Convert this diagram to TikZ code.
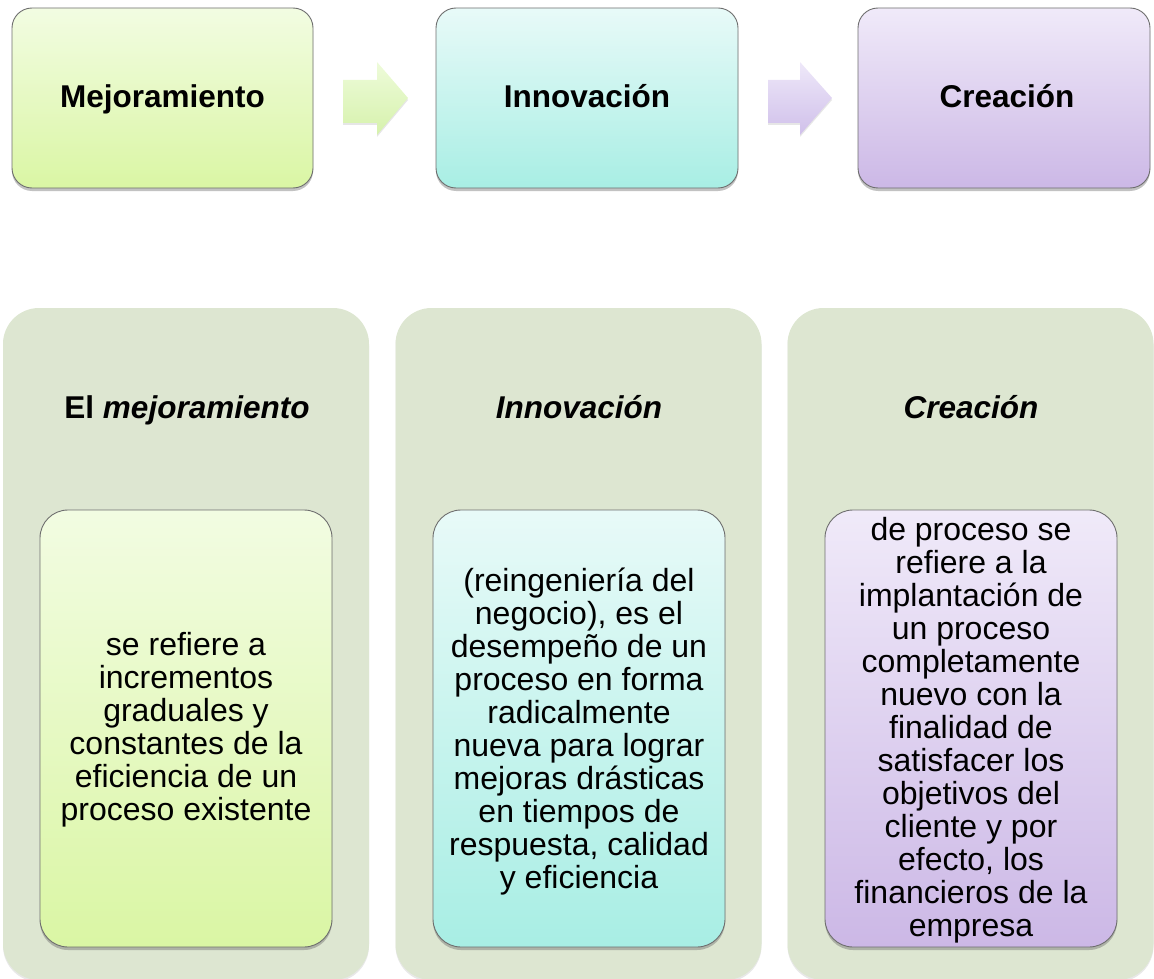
\documentclass[tikz,border=0pt]{standalone}
\usepackage{fontspec}
\setmainfont{Liberation Sans}
\usetikzlibrary{shadows}
\definecolor{bigfill}{RGB}{221,230,209}
\definecolor{edgegray}{RGB}{110,110,110}
\definecolor{gTop}{RGB}{242,252,226}
\definecolor{gBot}{RGB}{218,246,164}
\definecolor{cTop}{RGB}{232,250,248}
\definecolor{cBot}{RGB}{168,238,228}
\definecolor{pTop}{RGB}{240,234,249}
\definecolor{pBot}{RGB}{204,184,230}
\definecolor{agTop}{RGB}{238,251,218}
\definecolor{agBot}{RGB}{214,242,172}
\definecolor{apTop}{RGB}{238,232,249}
\definecolor{apBot}{RGB}{208,192,234}
\tikzset{
  softshadow/.style={drop shadow={shadow xshift=0pt,shadow yshift=-3pt,opacity=0.4,fill=black!60}},
  topbox/.style={draw=edgegray,line width=0.9pt,rounded corners=20pt,minimum height=180pt,inner sep=0pt,softshadow},
  bigbox/.style={fill=bigfill,rounded corners=36pt,minimum width=366pt,minimum height=672pt,inner sep=0pt,
     drop shadow={shadow xshift=0pt,shadow yshift=-2pt,opacity=0.18,fill=black!50}},
  innerbox/.style={draw=edgegray,line width=0.9pt,rounded corners=28pt,minimum width=292pt,minimum height=437pt,inner sep=0pt,softshadow},
  headtxt/.style={font=\fontsize{31.5}{35}\selectfont\bfseries,anchor=base},
  bodytxt/.style={align=center,font=\fontsize{32}{33}\selectfont,inner sep=0pt},
  arrowshape/.style={drop shadow={shadow xshift=0pt,shadow yshift=-2pt,opacity=0.2,fill=black!50}}
}
\begin{document}
\begin{tikzpicture}[x=1pt,y=-1pt]
\useasboundingbox (0,0) rectangle (1154,979);
% top row
\node[topbox,minimum width=301pt,top color=gTop,bottom color=gBot] (m) at (162.5,98) {};
\node[topbox,minimum width=302pt,top color=cTop,bottom color=cBot] (i) at (587,98) {};
\node[topbox,minimum width=292pt,top color=pTop,bottom color=pBot] (c) at (1004,98) {};
\node[headtxt] (mt) at (162.5,108) {Mejoramiento};
\node[headtxt] (it) at (587,108) {Innovación};
\node[headtxt] (ct) at (1007,108) {Creación};
% arrows
\path[arrowshape,top color=agTop,bottom color=agBot]
  (343,80) -- (377,80) -- (377,62) -- (408,98) -- (377,135) -- (377,123) -- (343,123) -- cycle;
\path[arrowshape,top color=apTop,bottom color=apBot]
  (768,80) -- (800,80) -- (800,62) -- (832,98) -- (800,135) -- (800,123) -- (768,123) -- cycle;
% bottom row
\node[bigbox] (ba) at (186,644) {};
\node[bigbox] (bb) at (578.5,644) {};
\node[bigbox] (bc) at (970.5,644) {};
\node[headtxt] (bat) at (187,418) {El \textit{mejoramiento}};
\node[headtxt] (bbt) at (579,418) {\textit{Innovación}};
\node[headtxt] (bct) at (971,418) {\textit{Creación}};
\node[innerbox,top color=gTop,bottom color=gBot] (ia) at (186,728.5) {};
\node[innerbox,top color=cTop,bottom color=cBot] (ib) at (579,728.5) {};
\node[innerbox,top color=pTop,bottom color=pBot] (ic) at (971,728.5) {};
\node[bodytxt] (ta) at (186,730) {se refiere a\\incrementos\\graduales y\\constantes de la\\eficiencia de un\\proceso existente};
\node[bodytxt] (tb) at (579,732) {(reingeniería del\\negocio), es el\\desempeño de un\\proceso en forma\\radicalmente\\nueva para lograr\\mejoras drásticas\\en tiempos de\\respuesta, calidad\\y eficiencia};
\node[bodytxt] (tc) at (971,730) {de proceso se\\refiere a la\\implantación de\\un proceso\\completamente\\nuevo con la\\finalidad de\\satisfacer los\\objetivos del\\cliente y por\\efecto, los\\financieros de la\\empresa};
\end{tikzpicture}
\end{document}
